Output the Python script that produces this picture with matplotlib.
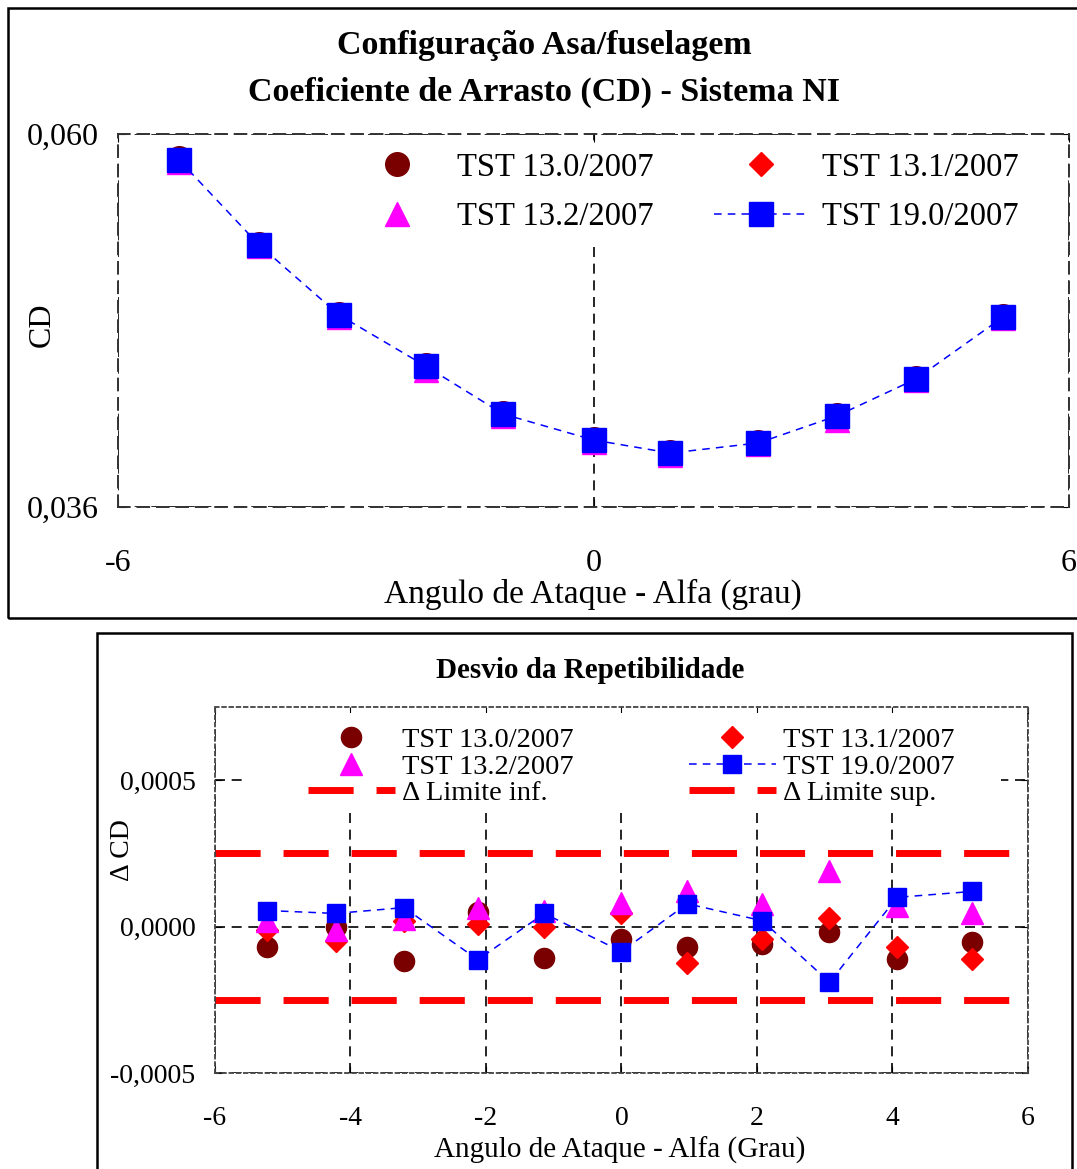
import matplotlib.pyplot as plt
from matplotlib.patches import Rectangle

plt.rcParams['font.family'] = ['Liberation Serif', 'DejaVu Serif']
plt.rcParams['axes.unicode_minus'] = False

# angulo de ataque (grau)
alfa = [-5.23, -4.22, -3.21, -2.12, -1.14, 0.0, 0.97, 2.08, 3.07, 4.07, 5.17]

# coeficiente de arrasto por ensaio
cd_130 = [0.05843, 0.05295, 0.04843, 0.04512, 0.04206, 0.04036, 0.03955, 0.04019, 0.04190, 0.04432, 0.04832]
cd_131 = [0.05835, 0.05287, 0.04836, 0.04509, 0.04199, 0.04033, 0.03948, 0.04014, 0.04188, 0.04426, 0.04825]
cd_132 = [0.05822, 0.05276, 0.04825, 0.04482, 0.04188, 0.04020, 0.03937, 0.04003, 0.04160, 0.04414, 0.04813]
cd_190 = [0.05833, 0.05286, 0.04835, 0.04507, 0.04198, 0.04031, 0.03947, 0.04012, 0.04186, 0.04424, 0.04823]

# desvio da repetibilidade
dcd_130 = [-0.00007, 0.0, -0.000116, 0.00005, -0.000106, -0.000041, -0.00007, -0.000058, -0.00002, -0.00011, -0.000051]
dcd_131 = [-0.00001, -0.000048, 0.00002, 0.00001, 0.0, 0.000048, -0.000124, -0.000041, 0.00003, -0.000068, -0.00011]
dcd_132 = [0.00002, -0.000013, 0.000027, 0.000065, 0.000055, 0.000082, 0.000123, 0.000078, 0.00019, 0.00007, 0.000045]
dcd_190 = [0.000055, 0.000045, 0.000065, -0.000113, 0.000045, -0.000085, 0.000078, 0.00002, -0.00019, 0.0001, 0.00012]
lim_inf = -0.00025
lim_sup = 0.00025

labels = ['TST 13.0/2007', 'TST 13.1/2007', 'TST 13.2/2007', 'TST 19.0/2007']
lim_labels = ['Δ Limite inf.', 'Δ Limite sup.']

top_yticks = [0.036, 0.060]
top_yticklabels = ['0,036', '0,060']
top_xticks = [-6, 0, 6]
bot_yticks = [-0.0005, 0.0, 0.0005]
bot_yticklabels = ['-0,0005', '0,0000', '0,0005']
bot_xticks = [-6, -4, -2, 0, 2, 4, 6]

maroon, red, magenta, blue = '#7a0000', '#ff0000', '#ff00ff', '#0000ff'
grid_ls = (0, (6, 4))

fig = plt.figure(figsize=(10.77, 11.69), dpi=100)

# caixas externas
fig.add_artist(Rectangle((0.0074, 0.4713), 1.0, 0.5219, transform=fig.transFigure,
                         fill=False, ec='black', lw=1.8))
fig.add_artist(Rectangle((0.0901, -0.01), 0.9053, 0.4685, transform=fig.transFigure,
                         fill=False, ec='black', lw=1.8))

# ---------------- grafico superior ----------------
ax1 = fig.add_axes([0.1096, 0.5663, 0.883, 0.3191])
ax1.set_axisbelow(True)
h130, = ax1.plot(alfa, cd_130, 'o', color=maroon, ms=17, label=labels[0])
h131, = ax1.plot(alfa, cd_131, 'D', color=red, ms=12, label=labels[1])
h132, = ax1.plot(alfa, cd_132, '^', color=magenta, ms=17, label=labels[2])
h190, = ax1.plot(alfa, cd_190, color=blue, ls=(0, (5, 4)), lw=1.1, marker='s', ms=17,
                 label=labels[3])
ax1.set_xlim(-6, 6)
ax1.set_ylim(0.036, 0.060)
ax1.set_xticks(top_xticks)
ax1.set_xticklabels([str(t) for t in top_xticks])
ax1.set_yticks(top_yticks)
ax1.set_yticklabels(top_yticklabels)
ax1.grid(True, ls=grid_ls, color='black', lw=1.2)
ax1.tick_params(direction='in', length=6, top=True, right=True, labelsize=23)
ax1.tick_params(axis='x', pad=30)
ax1.tick_params(axis='y', pad=14)
for sp in ax1.spines.values():
    sp.set_linestyle(grid_ls)
    sp.set_color('#333333')
    sp.set_linewidth(1.4)
ax1.legend([h130, h132, h131, h190], [labels[0], labels[2], labels[1], labels[3]],
           ncol=2, loc='upper left', bbox_to_anchor=(0.233, 0.977), fontsize=23.5,
           handlelength=2.9, handletextpad=0.4, columnspacing=1.85,
           labelspacing=0.58, borderpad=0.3, borderaxespad=0,
           frameon=True, fancybox=False, framealpha=1, facecolor='white',
           edgecolor='none')

fig.text(0.505, 0.9615, 'Configuração Asa/fuselagem', ha='center', va='center',
         fontsize=24.5, fontweight='bold')
fig.text(0.505, 0.9213, 'Coeficiente de Arrasto (CD) - Sistema NI', ha='center',
         va='center', fontsize=24.5, fontweight='bold')
fig.text(0.039, 0.722, 'CD', rotation=90, ha='center', va='center', fontsize=23)
fig.text(0.5506, 0.4915, 'Angulo de Ataque - Alfa (grau)', ha='center', va='center',
         fontsize=24)

# ---------------- grafico inferior ----------------
ax2 = fig.add_axes([0.1996, 0.0821, 0.7549, 0.3131])
ax2.set_axisbelow(True)
g130, = ax2.plot(alfa, dcd_130, 'o', color=maroon, ms=14.5, label=labels[0])
g131, = ax2.plot(alfa, dcd_131, 'D', color=red, ms=11, label=labels[1])
g132, = ax2.plot(alfa, dcd_132, '^', color=magenta, ms=16, label=labels[2])
g190, = ax2.plot(alfa, dcd_190, color=blue, ls=(0, (5, 4)), lw=1.1, marker='s', ms=13.5,
                 label=labels[3])
l_inf = ax2.axhline(lim_inf, color=red, lw=5, ls=(0, (6.5, 3.3)), label=lim_labels[0])
l_sup = ax2.axhline(lim_sup, color=red, lw=5, ls=(0, (6.5, 3.3)), label=lim_labels[1])
ax2.set_xlim(-6, 6)
ax2.set_ylim(-0.0005, 0.00075)
ax2.set_xticks(bot_xticks)
ax2.set_xticklabels([str(t) for t in bot_xticks])
ax2.set_yticks(bot_yticks)
ax2.set_yticklabels(bot_yticklabels)
ax2.grid(True, ls=grid_ls, color='black', lw=1.2)
ax2.tick_params(direction='in', length=5, top=True, right=True, labelsize=20)
ax2.tick_params(axis='x', pad=24)
ax2.tick_params(axis='y', pad=14)
for sp in ax2.spines.values():
    sp.set_linestyle((0, (2, 2)))
    sp.set_color('#444444')
    sp.set_linewidth(1.3)
# fundo branco da legenda
ax2.add_patch(Rectangle((0.037, 0.72), 0.93, 0.265, transform=ax2.transAxes,
                        fc='white', ec='none', zorder=1))
ax2.legend([g130, g132, l_inf, g131, g190, l_sup],
           [labels[0], labels[2], lim_labels[0], labels[1], labels[3], lim_labels[1]],
           ncol=2, loc='upper left', bbox_to_anchor=(0.1144, 0.944), fontsize=20.5,
           handlelength=3.05, handletextpad=0.25, columnspacing=4.05,
           labelspacing=0.01, borderpad=0, borderaxespad=0, frameon=False)

fig.text(0.5478, 0.4265, 'Desvio da Repetibilidade', ha='center', va='center',
         fontsize=21, fontweight='bold')
fig.text(0.1133, 0.2729, 'Δ CD', rotation=90, ha='center', va='center', fontsize=20)
fig.text(0.5757, 0.016, 'Angulo de Ataque - Alfa (Grau)', ha='center', va='center',
         fontsize=21)

fig.savefig('out.png', dpi=100)
